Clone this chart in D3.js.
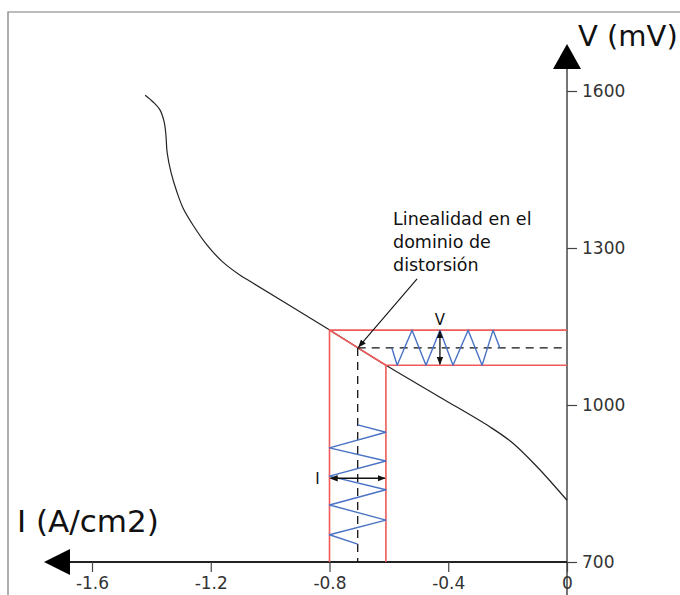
<!DOCTYPE html>
<html>
<head>
<meta charset="utf-8">
<script src="https://cdn.jsdelivr.net/npm/d3@7/dist/d3.min.js"></script>
<style>
  html, body { margin: 0; padding: 0; background: #fff; }
  svg { display: block; }
  text { font-family: Verdana, "DejaVu Sans", sans-serif; }
</style>
</head>
<body>
<svg id="chart" width="680" height="595"></svg>
<script>
// Polarisation curve: current density I (A/cm2) vs potential V (mV)
const curveI = [-1.421, -1.394, -1.371, -1.357, -1.351, -1.347, -1.334, -1.314, -1.293, -1.260, -1.213, -1.159, -1.101, -1.058, -0.798, -0.704, -0.610, -0.428, -0.259, -0.182, -0.101, -0.051, 0];
const curveV = [1592, 1579, 1564, 1541, 1516, 1483, 1445, 1407, 1376, 1344, 1306, 1273, 1248, 1233, 1143, 1109, 1076, 1015, 958, 927, 882, 851, 818];

// Linear window of the distortion domain
const windowI = [-0.8, -0.61];
const windowV = [1076, 1143];
const centerI = -0.705;
const centerV = 1109;

// Potential perturbation (drawn along I), extremes of the wave
const vWaveI = [-0.59, -0.572, -0.522, -0.475, -0.428, -0.384, -0.333, -0.286, -0.249, -0.226];
const vWaveV = [1109, 1076, 1143, 1076, 1143, 1076, 1143, 1076, 1143, 1109];

// Current response (drawn along V), extremes of the wave
const iWaveI = [-0.705, -0.61, -0.8, -0.61, -0.8, -0.61, -0.8, -0.61, -0.8, -0.705];
const iWaveV = [962, 948, 918, 893, 864, 838, 809, 780, 752, 734];

// Amplitude markers
const vArrowI = -0.428;
const iArrowV = 860;

// Axes
const xTicks = [-1.6, -1.2, -0.8, -0.4, 0];
const yTicks = [700, 1000, 1300, 1600];
const xTitle = "I (A/cm2)";
const yTitle = "V (mV)";

// Annotation
const noteLines = ["Linealidad en el", "dominio de", "distorsión"];
const noteAnchor = [-0.586, 1344];   // baseline of the first note line
const leaderStart = [-0.505, 1241];

const svg = d3.select("#chart");

const x = d3.scaleLinear().domain([-1.6, 0]).range([92, 567]);
const y = d3.scaleLinear().domain([700, 1600]).range([562, 91]);

// Outer frame
svg.append("path")
  .attr("d", "M8,600 L8,12 L690,12")
  .attr("fill", "none").attr("stroke", "#7a7a7a").attr("stroke-width", 1.2);

const defs = svg.append("defs");
function marker(id, size) {
  defs.append("marker")
    .attr("id", id)
    .attr("viewBox", "0 0 10 10")
    .attr("refX", 9).attr("refY", 5)
    .attr("markerWidth", size).attr("markerHeight", size)
    .attr("markerUnits", "userSpaceOnUse")
    .attr("orient", "auto-start-reverse")
    .append("path").attr("d", "M0,1 L10,5 L0,9 Z").attr("fill", "#111");
}
marker("tip", 8);

const x0 = x(0), y0 = y(700);

// Y axis line and arrow
svg.append("line")
  .attr("x1", x0).attr("x2", x0).attr("y1", 68).attr("y2", 600)
  .attr("stroke", "#666").attr("stroke-width", 1.8);
svg.append("path")
  .attr("d", `M${x0},44 L${x0 - 14},69 L${x0 + 14},69 Z`).attr("fill", "#000");

// X axis line and arrow
svg.append("line")
  .attr("x1", 68).attr("x2", x0).attr("y1", y0).attr("y2", y0)
  .attr("stroke", "#222").attr("stroke-width", 1.8);
svg.append("path")
  .attr("d", `M44,${y0} L70,${y0 - 13} L70,${y0 + 13} Z`).attr("fill", "#000");

const fmt = d => String(d);

const xAxis = svg.append("g")
  .attr("transform", `translate(0,${y0})`)
  .call(d3.axisBottom(x).tickValues(xTicks).tickSize(10).tickPadding(5).tickFormat(fmt));
xAxis.select(".domain").remove();
xAxis.selectAll("line").attr("stroke", "#444").attr("stroke-width", 1.2);
xAxis.selectAll("text").attr("font-size", 17).attr("fill", "#333")
  .style("font-family", "Verdana, 'DejaVu Sans', sans-serif");

const yAxis = svg.append("g")
  .attr("transform", `translate(${x0},0)`)
  .call(d3.axisRight(y).tickValues(yTicks).tickSize(10).tickPadding(5).tickFormat(fmt));
yAxis.select(".domain").remove();
yAxis.selectAll("line").attr("stroke", "#444").attr("stroke-width", 1.2);
yAxis.selectAll("text").attr("font-size", 17).attr("fill", "#333")
  .style("font-family", "Verdana, 'DejaVu Sans', sans-serif");

// Axis titles
svg.append("text").attr("x", 578).attr("y", 46).attr("font-size", 29).attr("fill", "#111").text(yTitle);
svg.append("text").attr("x", 17).attr("y", 532).attr("font-size", 31).attr("fill", "#111").text(xTitle);

// Polarisation curve
const curvePts = curveI.map((d, i) => [x(d), y(curveV[i])]);
svg.append("path")
  .attr("d", d3.line().curve(d3.curveCatmullRom.alpha(0.5))(curvePts))
  .attr("fill", "none").attr("stroke", "#222").attr("stroke-width", 1.2);

// Red window: bounds and linear segment
const red = "#f05a5a";
const wx1 = x(windowI[0]), wx2 = x(windowI[1]);
const wy1 = y(windowV[1]), wy2 = y(windowV[0]);
const redG = svg.append("g").attr("stroke", red).attr("stroke-width", 1.6).attr("fill", "none");
redG.append("path").attr("d", `M${wx1},${y0} L${wx1},${wy1} L${x0},${wy1}`);
redG.append("path").attr("d", `M${wx2},${y0} L${wx2},${wy2} L${x0},${wy2}`);
redG.append("line").attr("x1", wx1).attr("y1", wy1).attr("x2", wx2).attr("y2", wy2);

// Dashed guides from the operating point
const cx = x(centerI), cy = y(centerV);
const dashG = svg.append("g").attr("stroke", "#111").attr("stroke-width", 1.3).attr("stroke-dasharray", "8,6");
dashG.append("line").attr("x1", cx).attr("y1", cy).attr("x2", x0).attr("y2", cy);
dashG.append("line").attr("x1", cx).attr("y1", cy).attr("x2", cx).attr("y2", y0);

// Waves
const blue = "#4a72c4";
svg.append("path")
  .attr("d", d3.line()(vWaveI.map((d, i) => [x(d), y(vWaveV[i])])))
  .attr("fill", "none").attr("stroke", blue).attr("stroke-width", 1.4).attr("stroke-linejoin", "round");
svg.append("path")
  .attr("d", d3.line()(iWaveI.map((d, i) => [x(d), y(iWaveV[i])])))
  .attr("fill", "none").attr("stroke", blue).attr("stroke-width", 1.4).attr("stroke-linejoin", "round");

// Amplitude arrows
svg.append("line")
  .attr("x1", x(vArrowI)).attr("x2", x(vArrowI)).attr("y1", wy1 + 1).attr("y2", wy2 - 1)
  .attr("stroke", "#111").attr("stroke-width", 1.3)
  .attr("marker-start", "url(#tip)").attr("marker-end", "url(#tip)");
svg.append("text").attr("x", x(vArrowI)).attr("y", wy1 - 5).attr("text-anchor", "middle")
  .attr("font-size", 15).attr("fill", "#111").text("V");

svg.append("line")
  .attr("x1", wx1 + 1).attr("x2", wx2 - 1).attr("y1", y(iArrowV)).attr("y2", y(iArrowV))
  .attr("stroke", "#111").attr("stroke-width", 1.3)
  .attr("marker-start", "url(#tip)").attr("marker-end", "url(#tip)");
svg.append("text").attr("x", wx1 - 12).attr("y", y(iArrowV)).attr("dy", "0.35em").attr("text-anchor", "middle")
  .attr("font-size", 15).attr("fill", "#111").text("I");

// Annotation with leader
const note = svg.append("text").attr("x", x(noteAnchor[0])).attr("y", y(noteAnchor[1]))
  .attr("font-size", 17.5).attr("fill", "#111");
noteLines.forEach((t, i) => note.append("tspan").attr("x", x(noteAnchor[0])).attr("dy", i === 0 ? 0 : 23).text(t));
svg.append("line")
  .attr("x1", x(leaderStart[0])).attr("y1", y(leaderStart[1]))
  .attr("x2", cx + 1).attr("y2", cy - 1)
  .attr("stroke", "#111").attr("stroke-width", 1.1)
  .attr("marker-end", "url(#tip)");
</script>
</body>
</html>
